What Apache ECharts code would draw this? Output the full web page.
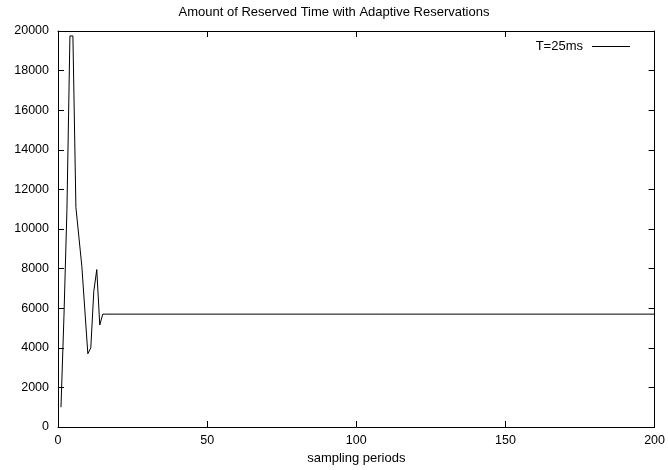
<!DOCTYPE html>
<html>
<head>
<meta charset="utf-8">
<script src="https://cdn.jsdelivr.net/npm/echarts@6/dist/echarts.min.js"></script>
<style>html,body{margin:0;padding:0;background:#fff;}#c{width:668px;height:470px;}</style>
</head>
<body>
<div id="c"></div>
<script>
var periods = [1, 2, 3, 4, 5, 6, 7, 8, 9, 10, 11, 12, 13, 14, 15, 16, 200];
var reservedT25 = [1000, 5600, 11000, 19750, 19750, 11100, 9600, 8100, 5900, 3700, 4000, 6850, 7950, 5150, 5700, 5700, 5700];
var xTicks = [0, 50, 100, 150, 200];
var yTicks = [0, 2000, 4000, 6000, 8000, 10000, 12000, 14000, 16000, 18000, 20000];
var seriesName = 'T=25ms';

var font = 'Liberation Sans, Arial, Helvetica, sans-serif';
var data = periods.map(function (p, i) { return [p, reservedT25[i]]; });
var chart = echarts.init(document.getElementById('c'), null, {renderer: 'canvas'});
var axisLine = {show: true, onZero: false, lineStyle: {color: '#000', width: 1}};
var tickIn = {show: true, inside: true, length: 6, lineStyle: {color: '#000', width: 1}};
var plain = function (v) { return String(v); };
chart.setOption({
  animation: false,
  backgroundColor: '#fff',
  title: {
    text: 'Amount of Reserved Time with Adaptive Reservations',
    left: 'center', top: 1,
    textStyle: {fontFamily: font, fontSize: 13, fontWeight: 'normal', color: '#000'}
  },
  legend: {
    data: [seriesName],
    right: 33, top: 35,
    align: 'right',
    itemWidth: 38, itemHeight: 1, itemGap: 0,
    icon: 'rect',
    textStyle: {fontFamily: font, fontSize: 13, color: '#000', padding: [0, 4, 0, 0]}
  },
  grid: {left: 58, right: 13, top: 31, bottom: 43, containLabel: false},
  xAxis: [{
    type: 'value', min: xTicks[0], max: xTicks[xTicks.length - 1], interval: 50,
    position: 'bottom',
    name: 'sampling periods', nameLocation: 'middle', nameGap: 25,
    nameTextStyle: {fontFamily: font, fontSize: 13, color: '#000'},
    axisLine: axisLine, axisTick: tickIn,
    axisLabel: {fontFamily: font, fontSize: 12.5, color: '#000', margin: 7, formatter: plain},
    splitLine: {show: false}
  }, {
    type: 'value', min: xTicks[0], max: xTicks[xTicks.length - 1], interval: 50,
    position: 'top',
    axisLine: axisLine, axisTick: tickIn, axisLabel: {show: false}, splitLine: {show: false}
  }],
  yAxis: [{
    type: 'value', min: yTicks[0], max: yTicks[yTicks.length - 1], interval: 2000,
    position: 'left',
    axisLine: axisLine, axisTick: tickIn,
    axisLabel: {fontFamily: font, fontSize: 12.5, color: '#000', margin: 9, formatter: plain},
    splitLine: {show: false}
  }, {
    type: 'value', min: yTicks[0], max: yTicks[yTicks.length - 1], interval: 2000,
    position: 'right',
    axisLine: axisLine, axisTick: tickIn, axisLabel: {show: false}, splitLine: {show: false}
  }],
  series: [{
    name: seriesName,
    type: 'line',
    data: data,
    symbol: 'none',
    lineStyle: {color: '#000', width: 1},
    itemStyle: {color: '#000'}
  }]
});
</script>
</body>
</html>
